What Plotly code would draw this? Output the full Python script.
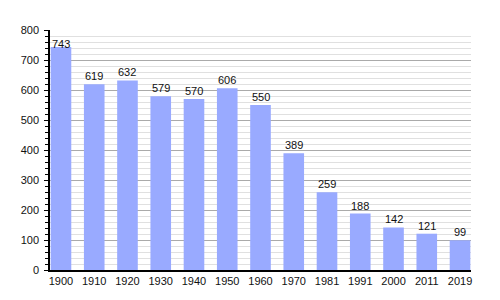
import plotly.graph_objects as go
import numpy as np

years = ["1900", "1910", "1920", "1930", "1940", "1950", "1960", "1970", "1981", "1991", "2000", "2011", "2019"]
population = [743, 619, 632, 579, 570, 606, 550, 389, 259, 188, 142, 121, 99]

bar_color = "#99aaff"
font_family = "Liberation Sans, Arial, sans-serif"

fig = go.Figure()
fig.add_trace(go.Bar(x=list(range(len(years))), y=population, marker=dict(color=bar_color, line=dict(width=0)),
                     width=0.62, hoverinfo="skip"))

label_y = np.minimum(np.array(population), 728)
for i, (v, ly) in enumerate(zip(population, label_y)):
    fig.add_annotation(x=i, y=float(ly), text=str(v), showarrow=False, yanchor="middle",
                       yshift=8, font=dict(size=11, color="#111", family=font_family))

fig.update_layout(
    width=500, height=300,
    margin=dict(l=50, r=29, t=30, b=30),
    paper_bgcolor="white", plot_bgcolor="white",
    showlegend=False,
    font=dict(family=font_family, size=11, color="#111"),
)
fig.update_xaxes(range=[-0.33, 12.33], tickmode="array", tickvals=list(range(len(years))), ticktext=years,
                 showline=True, linecolor="black", linewidth=1.5,
                 ticks="", showgrid=False, tickfont=dict(size=11), zeroline=False)
fig.update_yaxes(range=[0, 800], dtick=100, showline=True, linecolor="black", linewidth=1.5,
                 ticks="outside", ticklen=4, tickcolor="black", showgrid=True, gridcolor="#aaaaaa",
                 gridwidth=1, zeroline=False, tickfont=dict(size=11), ticklabelstandoff=3,
                 minor=dict(dtick=20, showgrid=True, gridcolor="#e0e0e0", gridwidth=1,
                            ticks="outside", ticklen=3, tickcolor="black"))

fig.write_html("out.html")
